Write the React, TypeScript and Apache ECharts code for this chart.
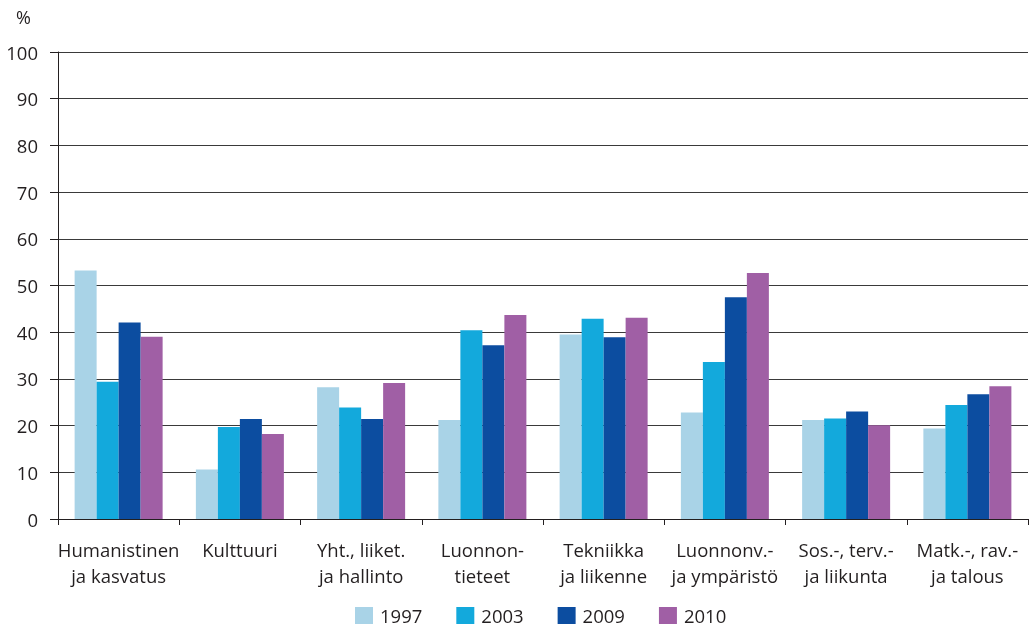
import React, { useEffect, useRef } from "react";
import * as echarts from "echarts";

const categories = [
  "Humanistinen\nja kasvatus",
  "Kulttuuri",
  "Yht., liiket.\nja hallinto",
  "Luonnon-\ntieteet",
  "Tekniikka\nja liikenne",
  "Luonnonv.-\nja ympäristö",
  "Sos.-, terv.-\nja liikunta",
  "Matk.-, rav.-\nja talous",
];
const years = ["1997", "2003", "2009", "2010"];
const v1997 = [53.2, 10.6, 28.2, 21.2, 39.5, 22.8, 21.2, 19.4];
const v2003 = [29.4, 19.7, 23.9, 40.4, 42.9, 33.6, 21.5, 24.4];
const v2009 = [42.1, 21.4, 21.4, 37.2, 38.9, 47.5, 23.0, 26.7];
const v2010 = [39.0, 18.2, 29.1, 43.7, 43.1, 52.7, 20.1, 28.4];
const colors = ["#a9d3e7", "#13a9dc", "#0c4da0", "#a05fa5"];

const FONT = "'Open Sans', 'Noto Sans', sans-serif";

export default function App() {
  const ref = useRef<HTMLDivElement>(null);
  useEffect(() => {
    if (!ref.current) return;
    const chart = echarts.init(ref.current, undefined, { renderer: "svg" });
    const values = [v1997, v2003, v2009, v2010];
    chart.setOption({
      animation: false,
      textStyle: { fontFamily: FONT, color: "#231f20" },
      grid: { left: 58, right: 7, top: 52, bottom: 109, containLabel: false },
      legend: {
        left: 355,
        top: 606,
        padding: 0,
        itemWidth: 18,
        itemHeight: 17,
        itemGap: 34,
        icon: "rect",
        textStyle: {
          fontSize: 18.5,
          fontFamily: FONT,
          color: "#231f20",
          padding: [0, 0, 0, 2],
        },
        data: years,
      },
      graphic: [
        {
          type: "text",
          left: 16,
          top: 8,
          style: { text: "%", fontSize: 18, fontFamily: FONT, fill: "#231f20" },
        },
      ],
      xAxis: {
        type: "category",
        data: categories,
        axisLine: { lineStyle: { color: "#231f20", width: 1 } },
        axisTick: { show: true, length: 6, lineStyle: { color: "#231f20" } },
        axisLabel: {
          fontSize: 18.5,
          fontFamily: FONT,
          color: "#231f20",
          lineHeight: 26,
          margin: 17,
          interval: 0,
        },
      },
      yAxis: {
        type: "value",
        min: 0,
        max: 100,
        interval: 10,
        axisLine: { show: true, lineStyle: { color: "#231f20", width: 1 } },
        axisTick: { show: true, length: 8, lineStyle: { color: "#231f20" } },
        splitLine: { show: true, lineStyle: { color: "#3a3a3a", width: 1 } },
        axisLabel: { fontSize: 18.5, fontFamily: FONT, color: "#231f20", margin: 20 },
      },
      series: years.map((y, i) => ({
        name: y,
        type: "bar",
        data: values[i],
        barWidth: 22,
        barGap: "0%",
        itemStyle: { color: colors[i] },
      })),
    });
    return () => chart.dispose();
  }, []);
  return (
    <div
      ref={ref}
      style={{ position: "fixed", left: 0, top: 0, width: 1035, height: 628 }}
    />
  );
}
